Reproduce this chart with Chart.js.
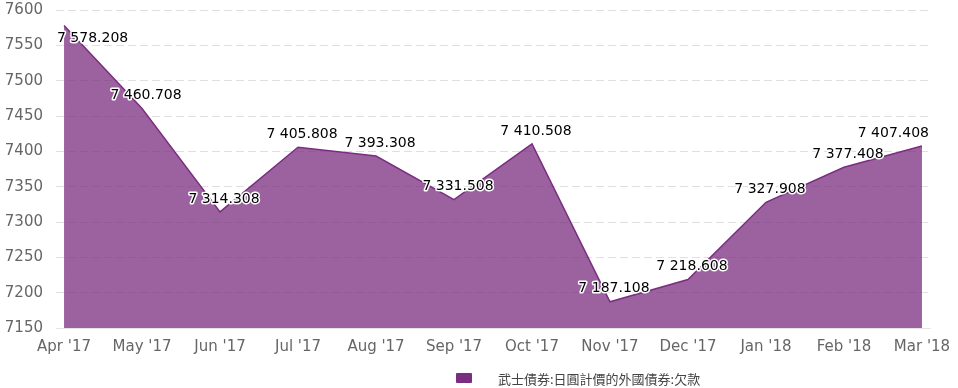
<!DOCTYPE html>
<html>
<head>
<meta charset="utf-8">
<script src="https://cdn.jsdelivr.net/npm/chart.js@4.4.1/dist/chart.umd.min.js"></script>
<style>
  body { margin: 0; background: #fff; }
  #wrap { position: relative; width: 958px; height: 388px; }
  #legend { position: absolute; left: 456px; top: 369px; font: 13px "Noto Sans CJK TC", "Noto Sans", sans-serif; color: #444; white-space: nowrap; }
  #legend .box { position: absolute; left: 0; top: 4px; width: 16px; height: 10px; background: #7b2d80; border-radius: 1px; }
  #legend .txt { position: absolute; left: 42px; top: 0; }
</style>
</head>
<body>
<div id="wrap">
  <canvas id="chart"></canvas>
  <div id="legend"><span class="box"></span><span class="txt">武士債券:日圓計價的外國債券:欠款</span></div>
</div>
<script>
// --- data ---
const months = ["Apr '17", "May '17", "Jun '17", "Jul '17", "Aug '17", "Sep '17", "Oct '17", "Nov '17", "Dec '17", "Jan '18", "Feb '18", "Mar '18"];
const values = [7578.208, 7460.708, 7314.308, 7405.808, 7393.308, 7331.508, 7410.508, 7187.108, 7218.608, 7327.908, 7377.408, 7407.408];
const seriesName = '武士債券:日圓計價的外國債券:欠款';
const yMin = 7150, yMax = 7600, yStep = 50;

const fmt = v => {
    const [i, d] = v.toFixed(3).split('.');
    return i.replace(/\B(?=(\d{3})+(?!\d))/g, ' ') + '.' + d;
};

// data labels with white halo, kept inside the plot
const pointLabels = {
    id: 'pointLabels',
    afterDatasetsDraw(chart) {
        const ctx = chart.ctx, area = chart.chartArea;
        const meta = chart.getDatasetMeta(0);
        ctx.save();
        ctx.font = '14px "DejaVu Sans", sans-serif';
        ctx.textAlign = 'center'; ctx.textBaseline = 'middle';
        ctx.lineJoin = 'round';
        meta.data.forEach((pt, i) => {
            const txt = fmt(values[i]);
            const w = ctx.measureText(txt).width;
            let x = pt.x + 4, y = pt.y - 13;
            if (x - w / 2 < area.left + 1) x = area.left + 1 + w / 2;
            if (x + w / 2 > area.right - 1) x = area.right - 1 - w / 2;
            if (y - 7 < area.top) y = pt.y + 13;
            ctx.strokeStyle = '#fff'; ctx.lineWidth = 3;
            ctx.strokeText(txt, x, y);
            ctx.fillStyle = '#000';
            ctx.fillText(txt, x, y);
        });
        ctx.restore();
    }
};

new Chart(document.getElementById('chart'), {
    type: 'line',
    data: {
        datasets: [{
            label: seriesName,
            data: values.map((v, i) => ({ x: i, y: v })),
            borderColor: '#7b2d80',
            borderWidth: 1.5,
            backgroundColor: 'rgba(123,45,128,0.75)',
            fill: 'start',
            tension: 0,
            pointRadius: 0
        }]
    },
    options: {
        responsive: true, maintainAspectRatio: false, animation: false,
        layout: { padding: { left: 5, right: 28, top: 10, bottom: 22 } },
        plugins: { legend: { display: false }, tooltip: { enabled: false } },
        scales: {
            x: {
                type: 'linear', min: -0.103, max: 11.103,
                afterBuildTicks: s => { s.ticks = months.map((_, i) => ({ value: i })); },
                afterFit: s => { s.paddingLeft = 0; s.paddingRight = 0; },
                ticks: { callback: v => months[v], color: '#666', font: { family: 'DejaVu Sans', size: 15 }, padding: 10, maxRotation: 0, autoSkip: false },
                grid: { display: false, drawTicks: false },
                border: { display: true, color: '#e6e6e6' }
            },
            y: {
                min: yMin, max: yMax,
                afterFit: s => { s.width = 51; s.paddingTop = 0; s.paddingBottom = 0; },
                ticks: { stepSize: yStep, callback: v => String(v), color: '#666', font: { family: 'DejaVu Sans', size: 15 }, padding: 13 },
                grid: { color: '#e0e0e0', drawTicks: false },
                border: { display: false, dash: [8, 4] }
            }
        }
    },
    plugins: [pointLabels]
});
</script>
</body>
</html>
